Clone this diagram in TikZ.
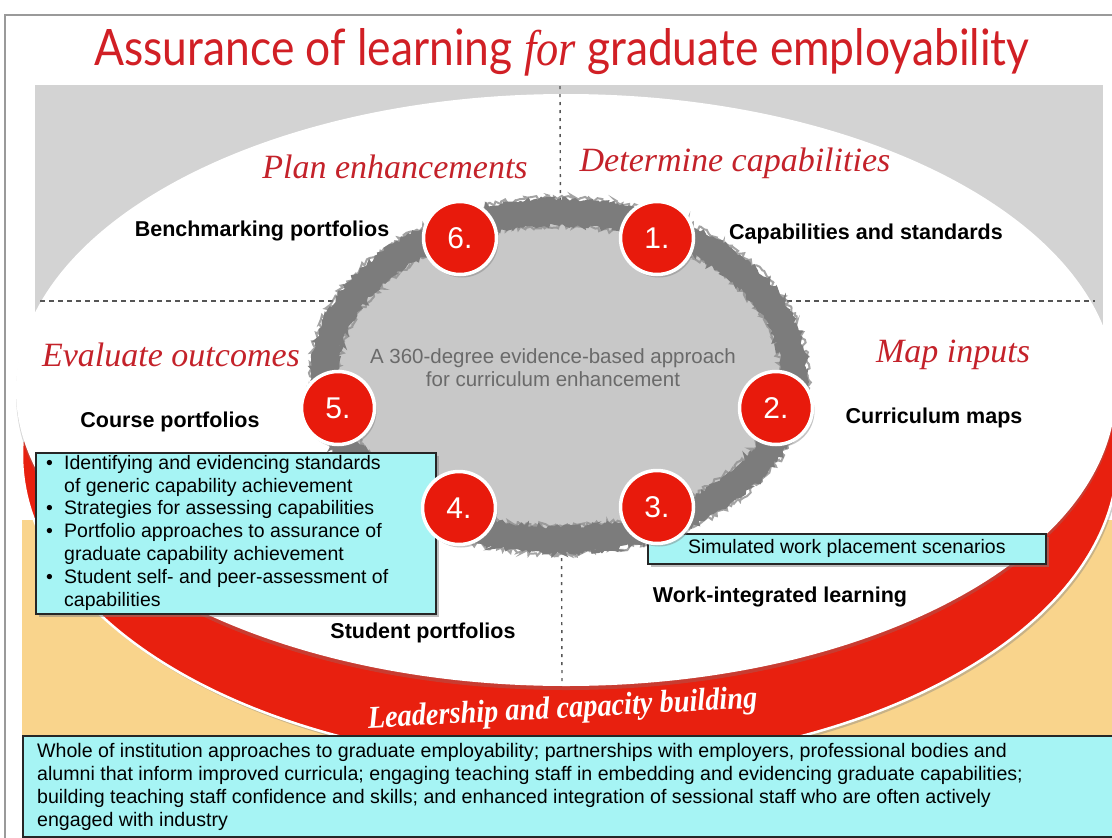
\documentclass[tikz,border=0pt]{standalone}
\usepackage{fontspec}
\setmainfont{Liberation Sans}
\newfontfamily\titlefont{Lato}
\newfontfamily\hdfont{Liberation Serif}
\usetikzlibrary{shadows,decorations.pathmorphing}
\definecolor{bggray}{HTML}{D3D3D3}
\definecolor{bgorange}{HTML}{F9D48C}
\definecolor{bandred}{HTML}{E8200F}
\definecolor{circred}{HTML}{E81A0C}
\definecolor{headred}{HTML}{C4222A}
\definecolor{titlered}{HTML}{D11F25}
\definecolor{ringgray}{HTML}{7C7C7C}
\definecolor{ringfill}{HTML}{C8C8C8}
\definecolor{boxcyan}{HTML}{A6F4F4}
\definecolor{centertext}{HTML}{6A6A6A}
\definecolor{framegray}{HTML}{9A9A9A}
\definecolor{dashgray}{HTML}{555555}
\begin{document}
\begin{tikzpicture}[x=1pt,y=-1pt,
  numcirc/.style={circle, fill=circred, draw=white, line width=3.5pt, minimum size=73pt, inner sep=0pt,
    text=white, font=\fontsize{30}{30}\selectfont,
    drop shadow={shadow xshift=2pt, shadow yshift=-3pt, opacity=0.45}},
  lbl/.style={inner sep=0pt, font=\fontsize{21.5}{24}\selectfont\bfseries},
  heading/.style={inner sep=0pt, text=headred, font=\hdfont\itshape\fontsize{34}{36}\selectfont},
  cyanbox/.style={draw=black!85, line width=1.6pt, fill=boxcyan, inner sep=0pt,
    drop shadow={shadow xshift=3pt, shadow yshift=-3pt, opacity=0.5}},
  boxtext/.style={inner sep=0pt, align=left, font=\fontsize{19.5}{22.8}\selectfont},
  dashline/.style={draw=dashgray, line width=1.4pt, dash pattern=on 5pt off 4pt},
  ringline/.style={ringgray, decorate, decoration={random steps, segment length=2.5pt, amplitude=#1}}
]
\useasboundingbox (0,0) rectangle (1112,838);
\fill[white] (0,0) rectangle (1112,838);
% frame
\draw[framegray, line width=1.5pt] (5,839) -- (5,15) -- (1113,15);
% backgrounds
\fill[bggray] (35,85) rectangle (1103,525);
\fill[bgorange] (22,520) rectangle (1113,736);
% red band ellipse and white ellipse
\path[fill=bandred, draw=white, line width=2.5pt,
  drop shadow={shadow xshift=2pt, shadow yshift=-3pt, opacity=0.4}]
  (570,455) ellipse [x radius=548pt, y radius=310pt];
\path[fill=white, drop shadow={shadow xshift=0pt, shadow yshift=-4pt, opacity=0.3}]
  (566,390) ellipse [x radius=550pt, y radius=296pt];
% dashed quadrant lines
\coordinate (vt) at (560,86);
\coordinate (vb) at (562,686);
\coordinate (hl) at (40,301);
\coordinate (hr) at (1095,301);
\draw[dashline, dash pattern=on 3pt off 5pt] (vt) -- (vb);
\draw[dashline] (hl) -- (hr);
% central ring
\fill[ringfill] (559,376) ellipse [x radius=236pt, y radius=164pt];
\pgfmathsetseed{7}
\draw[ringline=1pt, line width=22pt] (559,376) ellipse [x radius=235pt, y radius=164pt];
\draw[ringline=2.5pt, line width=4pt] (559,376) ellipse [x radius=246pt, y radius=175pt];
\draw[ringline=2.5pt, line width=4pt] (559,376) ellipse [x radius=224pt, y radius=153pt];
\draw[ringline=3pt, line width=2pt, opacity=0.7] (559,376) ellipse [x radius=249pt, y radius=178pt];
\draw[ringline=3pt, line width=2pt, opacity=0.6] (559,376) ellipse [x radius=221pt, y radius=150pt];
\node[inner sep=0pt, text=centertext, align=center, font=\fontsize{20.5}{23}\selectfont] (ctext) at (553,368)
  {A 360-degree evidence-based approach\\for curriculum enhancement};
% title
\node[inner sep=0pt, text=titlered, anchor=base] (title) at (562,65)
  {\resizebox{935pt}{37pt}{\titlefont Assurance of learning {\hdfont\itshape for} graduate employability}};
% headings
\node[heading] (hplan) at (395,167) {Plan enhancements};
\node[heading] (hdet) at (735,163) {Determine capabilities};
\node[heading] (heval) at (171,355) {Evaluate outcomes};
\node[heading] (hmap) at (953,355) {Map inputs};
% labels
\node[lbl] (lbench) at (262,231) {Benchmarking portfolios};
\node[lbl] (lcap) at (866,234) {Capabilities and standards};
\node[lbl] (lcourse) at (170,422) {Course portfolios};
\node[lbl] (lcurr) at (934,418) {Curriculum maps};
\node[lbl] (lwork) at (780,597) {Work-integrated learning};
\node[lbl] (lstud) at (423,633) {Student portfolios};
% cyan boxes
\node[cyanbox, minimum width=400pt, minimum height=161pt, anchor=north west] (lbox) at (35,452) {};
\node[boxtext, anchor=north west] (ltext) at (46,455)
  {\makebox[18pt][l]{\textbullet}Identifying and evidencing standards\\
   \hspace*{18pt}of generic capability achievement\\
   \makebox[18pt][l]{\textbullet}Strategies for assessing capabilities\\
   \makebox[18pt][l]{\textbullet}Portfolio approaches to assurance of\\
   \hspace*{18pt}graduate capability achievement\\
   \makebox[18pt][l]{\textbullet}Student self- and peer-assessment of\\
   \hspace*{18pt}capabilities};
\node[cyanbox, minimum width=398pt, minimum height=30pt, anchor=north west] (rbox) at (647,533) {};
\node[inner sep=0pt, font=\fontsize{19.5}{22}\selectfont] (rtext) at (rbox.center) {Simulated work placement scenarios};
% numbered circles
\node[numcirc] (c6) at (460,238) {6.};
\node[numcirc] (c1) at (657,238) {1.};
\node[numcirc] (c2) at (776,408) {2.};
\node[numcirc] (c5) at (338,408) {5.};
\node[numcirc] (c4) at (459,508) {4.};
\node[numcirc] (c3) at (657,507) {3.};
% leadership text
\node[inner sep=0pt, text=white, rotate=3, anchor=base] (lead) at (563,718)
  {\resizebox{390pt}{22pt}{\hdfont\itshape\bfseries Leadership and capacity building}};
% bottom box
\node[cyanbox, minimum width=1095pt, minimum height=101pt, anchor=north west] (bbox) at (22,735) {};
\node[inner sep=0pt, align=left, anchor=north west, font=\fontsize{19.6}{23}\selectfont] (btext) at (37,743)
  {Whole of institution approaches to graduate employability; partnerships with employers, professional bodies and\\
   alumni that inform improved curricula; engaging teaching staff in embedding and evidencing graduate capabilities;\\
   building teaching staff confidence and skills; and enhanced integration of sessional staff who are often actively\\
   engaged with industry};
\end{tikzpicture}
\end{document}
